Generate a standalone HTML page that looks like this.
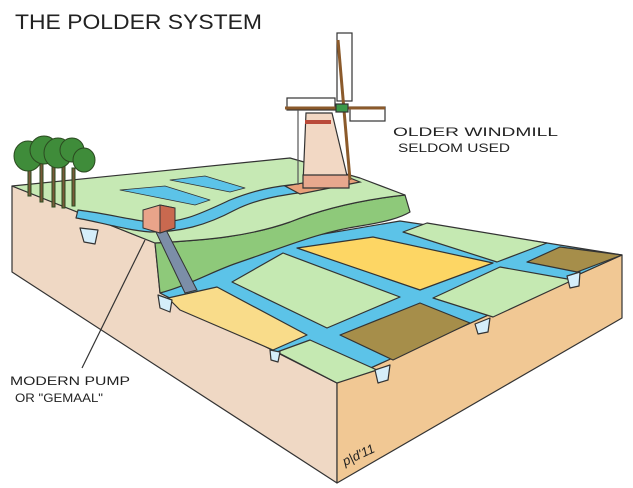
<!DOCTYPE html>
<html><head><meta charset="utf-8"><style>
html,body{margin:0;padding:0;background:#fff;}
svg{display:block;}
text{font-family:"Liberation Sans",sans-serif;fill:#222;}
</style></head><body>
<svg width="633" height="488" viewBox="0 0 633 488" xmlns="http://www.w3.org/2000/svg">
<g stroke="#333" stroke-width="1.2" stroke-linejoin="round">
<polygon points="12,186 155,243 160,293 337,383 337,483 12,272" fill="#efd8c4"/>
<polygon points="337,383 622,255 622,318 337,483" fill="#f1c894"/>
<polygon points="160,293 220,268 300,238 400,221 547,243 622,255 337,383" fill="#5cc3e8"/>
<polygon points="297,248 373,237 493,263 420,290" fill="#fdd664"/>
<polygon points="232,282 283,253 400,297 327,328" fill="#c5e9b2"/>
<polygon points="168,298 217,287 307,335 273,350 180,310" fill="#f9dc8a"/>
<polygon points="277,352 310,340 377,370 337,383" fill="#c5e9b2"/>
<polygon points="340,335 420,303 470,323 393,360" fill="#a68e4a"/>
<polygon points="433,298 500,267 573,280 493,317" fill="#c5e9b2"/>
<polygon points="403,232 427,223 547,243 497,262" fill="#c5e9b2"/>
<polygon points="527,262 560,247 622,255 577,272" fill="#a68e4a"/>
<path d="M155,243 L160,293 C190,285 215,270 240,262 C290,245 320,232 360,226 C385,222 400,218 410,212 L405,195 C360,200 320,210 290,222 C250,236 210,240 155,243 Z" fill="#8ec97a"/>
<path d="M12,186 L290,158 L360,178 L405,195 C360,200 320,210 290,222 C250,236 210,240 155,243 Z" fill="#c6e9b4"/>
<path d="M78,210 C110,214 130,220 150,222 C180,224 200,214 230,200 C255,190 275,186 300,184 L305,192 C275,196 255,200 235,210 C205,226 180,232 150,232 C125,230 100,222 76,218 Z" fill="#5cc3e8"/>
<path d="M120,190 L165,186 L210,200 L195,205 Z" fill="#5cc3e8" stroke-width="0.8"/>
<path d="M170,180 L205,176 L245,188 L230,192 Z" fill="#5cc3e8" stroke-width="0.8"/>
<polygon points="80,228 98,230 95,244 84,242" fill="#d5eefa"/>
<polygon points="158,295 172,300 170,312 160,308" fill="#d5eefa"/>
<polygon points="270,350 280,352 278,362 271,360" fill="#d5eefa"/>
<polygon points="375,370 390,365 388,380 378,383" fill="#d5eefa"/>
<polygon points="475,324 490,318 488,332 478,334" fill="#d5eefa"/>
<polygon points="567,276 580,272 579,286 570,288" fill="#d5eefa"/>
</g>
<g stroke="#2b4a20" stroke-width="1">
<rect x="28" y="160" width="3" height="36" fill="#7a5a3a"/>
<rect x="40" y="162" width="3" height="40" fill="#7a5a3a"/>
<rect x="52" y="165" width="3" height="42" fill="#7a5a3a"/>
<rect x="62" y="166" width="3" height="42" fill="#7a5a3a"/>
<rect x="72" y="168" width="3" height="38" fill="#7a5a3a"/>
<ellipse cx="28" cy="156" rx="14" ry="15" fill="#3f8c3a"/>
<ellipse cx="44" cy="150" rx="14" ry="14" fill="#3f8c3a"/>
<ellipse cx="58" cy="153" rx="14" ry="15" fill="#3f8c3a"/>
<ellipse cx="72" cy="150" rx="12" ry="12" fill="#3f8c3a"/>
<ellipse cx="84" cy="160" rx="11" ry="12" fill="#3f8c3a"/>
</g>
<g stroke="#333" stroke-width="1">
<polygon points="155,230 165,228 197,290 185,293" fill="#7c8ea8"/>
<polygon points="143,210 160,205 175,208 175,228 160,233 143,228" fill="#e9a48a"/>
<polygon points="160,205 175,208 175,228 160,233" fill="#c9694f"/>
</g>
<g stroke="#333" stroke-width="1.2">
<polygon points="285,186 345,176 360,182 300,194" fill="#e8a07a"/>
<polygon points="306,113 332,113 349,184 303,184" fill="#f2d8c4"/>
<polygon points="303,175 349,175 349,188 303,188" fill="#e8a88e"/>
<rect x="305" y="120" width="26" height="4" fill="#b94a3a" stroke="none"/>
<rect x="337" y="33" width="15" height="68" fill="#fff"/>
<rect x="287" y="98" width="48" height="12" fill="#fff"/>
<rect x="350" y="107" width="35" height="14" fill="#fff"/>
<line x1="338" y1="40" x2="350" y2="180" stroke="#8b5a2b" stroke-width="3"/>
<line x1="285" y1="108" x2="385" y2="108" stroke="#8b5a2b" stroke-width="3"/>
<rect x="336" y="104" width="12" height="8" fill="#3b9a4a"/>
<line x1="298" y1="110" x2="298" y2="185" stroke="#555"/>
</g>
<line x1="82" y1="368" x2="145" y2="240" stroke="#333" stroke-width="1.2"/>
<text x="15" y="29" font-size="21" textLength="247" lengthAdjust="spacingAndGlyphs">THE POLDER SYSTEM</text>
<text x="393" y="136" font-size="12" textLength="165" lengthAdjust="spacingAndGlyphs">OLDER WINDMILL</text>
<text x="398" y="152" font-size="12" textLength="112" lengthAdjust="spacingAndGlyphs">SELDOM USED</text>
<text x="10" y="385" font-size="12" textLength="120" lengthAdjust="spacingAndGlyphs">MODERN PUMP</text>
<text x="15" y="402" font-size="12" textLength="88" lengthAdjust="spacingAndGlyphs">OR "GEMAAL"</text>
<text x="345" y="466" font-size="13" font-style="italic" transform="rotate(-25 345 466)">p|d'11</text>
</svg>
</body></html>
